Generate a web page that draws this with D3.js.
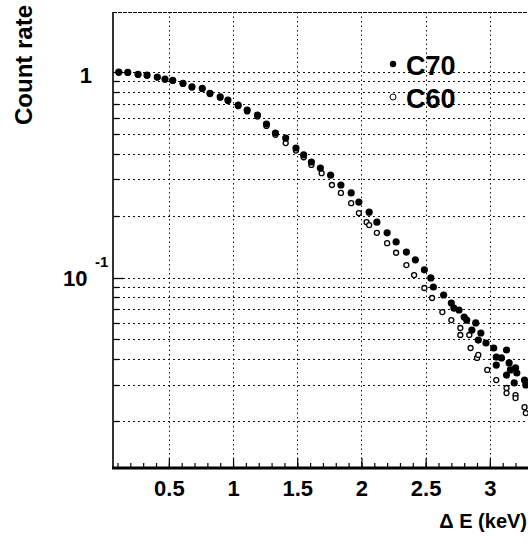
<!DOCTYPE html>
<html>
<head>
<meta charset="utf-8">
<script src="https://cdn.jsdelivr.net/npm/d3@7"></script>
<style>
  body { margin: 0; background: #fff; }
  svg text { font-family: "Liberation Sans", Arial, Helvetica, sans-serif; font-weight: bold; fill: #000; }
</style>
</head>
<body>
<svg id="chart"></svg>
<script>
// Count rate vs delta E, C70 (filled) and C60 (open)

const width = 528;
const height = 541;

// C70 points (keV, normalised count rate)
const c70Energy = [0.11, 0.18, 0.26, 0.33, 0.41, 0.47, 0.53, 0.61, 0.68, 0.76,
  0.82, 0.90, 0.96, 1.04, 1.11, 1.19, 1.26, 1.33, 1.41, 1.49,
  1.55, 1.61, 1.68, 1.76, 1.84, 1.92, 1.98, 2.06, 2.12, 2.20,
  2.27, 2.35, 2.42, 2.49, 2.54, 2.56, 2.64, 2.70, 2.72, 2.76,
  2.80, 2.82, 2.86, 2.89, 2.91, 2.93, 2.97, 3.03, 3.05, 3.05,
  3.09, 3.13, 3.13, 3.15, 3.16, 3.19, 3.20, 3.21, 3.27, 3.28];
const c70Rate = [1.00, 0.997, 0.975, 0.967, 0.946, 0.925, 0.911, 0.881, 0.848, 0.833,
  0.788, 0.758, 0.731, 0.691, 0.653, 0.618, 0.558, 0.505, 0.477, 0.427,
  0.395, 0.365, 0.341, 0.315, 0.282, 0.258, 0.233, 0.208, 0.186, 0.165,
  0.149, 0.133, 0.122, 0.109, 0.0995, 0.0899, 0.0822, 0.0751, 0.0710, 0.0695,
  0.0642, 0.0621, 0.0555, 0.0601, 0.0496, 0.0537, 0.0480, 0.0454, 0.0410, 0.0375,
  0.0406, 0.0444, 0.0335, 0.0384, 0.0355, 0.0307, 0.0363, 0.0343, 0.0317, 0.0300];

// C60 points
const c60Energy = [0.11, 0.18, 0.26, 0.33, 0.41, 0.47, 0.53, 0.61, 0.68, 0.76,
  0.82, 0.90, 0.96, 1.04, 1.11, 1.19, 1.26, 1.33, 1.41, 1.49,
  1.55, 1.61, 1.69, 1.77, 1.84, 1.92, 1.98, 2.04, 2.06, 2.12,
  2.20, 2.27, 2.35, 2.41, 2.49, 2.55, 2.63, 2.70, 2.77, 2.77,
  2.84, 2.85, 2.90, 2.91, 2.98, 3.05, 3.13, 3.13, 3.20, 3.20,
  3.27, 3.28];
const c60Rate = [0.995, 0.99, 0.97, 0.96, 0.94, 0.92, 0.905, 0.875, 0.842, 0.826,
  0.781, 0.75, 0.722, 0.682, 0.643, 0.607, 0.547, 0.495, 0.451, 0.415,
  0.385, 0.353, 0.322, 0.282, 0.258, 0.230, 0.206, 0.186, 0.180, 0.165,
  0.147, 0.132, 0.115, 0.1028, 0.0889, 0.0795, 0.0679, 0.0621, 0.0568, 0.0525,
  0.0525, 0.0454, 0.0406, 0.0420, 0.0355, 0.0317, 0.0290, 0.0274, 0.0268, 0.0259,
  0.0234, 0.0219];

// Axis ticks and grid
const xMajorTicks = [0.5, 1, 1.5, 2, 2.5, 3];
const xMinorTicks = d3.range(1, 34).map(d => d / 10);
const yMajorTicks = [1, 0.1];
const yGridValues = [0.02, 0.03, 0.04, 0.05, 0.06, 0.07, 0.08, 0.09,
  0.1, 0.2, 0.3, 0.4, 0.5, 0.6, 0.7, 0.8, 0.9, 1];

const legendItems = ["C70", "C60"];

const svg = d3.select("#chart").attr("width", width).attr("height", height);

// plot frame is cut off at the right edge of the picture
const plotLeft = 113, plotTop = 12, plotBottom = 468;

const x = d3.scaleLinear()
  .domain([0.065, 3.4])
  .range([plotLeft, plotLeft + 3.335 * 128.4]);

const y = d3.scaleLog()
  .domain([0.01183, 1.96])
  .range([plotBottom, plotTop]);

// snap a coordinate to the pixel grid so the dotted lines stay crisp
const crisp = v => Math.round(v) + 0.5;

// grid lines
const grid = svg.append("g").attr("class", "grid");
grid.selectAll(".hgrid")
  .data(yGridValues)
  .enter().append("line")
  .attr("x1", plotLeft).attr("x2", width)
  .attr("y1", d => crisp(y(d))).attr("y2", d => crisp(y(d)))
  .attr("stroke", "#111")
  .attr("stroke-width", 1)
  .attr("stroke-dasharray", "2,3");

grid.selectAll(".vgrid")
  .data(xMajorTicks)
  .enter().append("line")
  .attr("x1", d => crisp(x(d))).attr("x2", d => crisp(x(d)))
  .attr("y1", plotTop).attr("y2", plotBottom)
  .attr("stroke", "#111")
  .attr("stroke-width", 1)
  .attr("stroke-dasharray", "1.5,3");

// top border (dotted) and left border
svg.append("line")
  .attr("x1", plotLeft).attr("x2", width)
  .attr("y1", plotTop + 0.5).attr("y2", plotTop + 0.5)
  .attr("stroke", "#000").attr("stroke-width", 1)
  .attr("stroke-dasharray", "4,1");

svg.append("line")
  .attr("x1", plotLeft).attr("x2", plotLeft)
  .attr("y1", plotTop).attr("y2", plotBottom)
  .attr("stroke", "#000").attr("stroke-width", 1.6);

// x axis: minor and major ticks pointing inwards
const xMinorAxis = d3.axisBottom(x).tickValues(xMinorTicks).tickSize(-5).tickFormat("");
const xMajorAxis = d3.axisBottom(x).tickValues(xMajorTicks).tickSize(-10).tickPadding(12)
  .tickFormat(d => d);

svg.append("g").attr("transform", `translate(0,${plotBottom})`).call(xMinorAxis)
  .call(g => g.select(".domain").remove());
const xAxisG = svg.append("g").attr("transform", `translate(0,${plotBottom})`).call(xMajorAxis)
  .call(g => g.select(".domain").remove());
xAxisG.selectAll("text").style("font-size", "22px");
svg.selectAll(".tick line").attr("stroke", "#000").attr("stroke-width", 1.2);

svg.append("line")
  .attr("x1", plotLeft - 1).attr("x2", width)
  .attr("y1", plotBottom).attr("y2", plotBottom)
  .attr("stroke", "#000").attr("stroke-width", 3);

// y axis ticks
const yTicks = svg.append("g");
yTicks.selectAll("line")
  .data(yGridValues)
  .enter().append("line")
  .attr("x1", plotLeft)
  .attr("x2", d => plotLeft + (yMajorTicks.includes(d) ? 10 : 6))
  .attr("y1", d => crisp(y(d))).attr("y2", d => crisp(y(d)))
  .attr("stroke", "#000").attr("stroke-width", 1.3);

// y tick labels
svg.append("text")
  .attr("x", 92).attr("y", y(yMajorTicks[0]) + 11)
  .attr("text-anchor", "end")
  .style("font-size", "22px")
  .text("1");

const tenLabel = svg.append("text")
  .attr("x", 63).attr("y", y(yMajorTicks[1]) + 8.5)
  .style("font-size", "22px");
tenLabel.append("tspan").text("10");
tenLabel.append("tspan")
  .attr("x", 95).attr("dy", -19)
  .style("font-size", "15px")
  .text("-1");

// axis titles
svg.append("text")
  .attr("transform", "translate(32,65) rotate(-90)")
  .attr("text-anchor", "middle")
  .style("font-size", "24px")
  .text("Count rate");

svg.append("text")
  .attr("x", 527).attr("y", 528)
  .attr("text-anchor", "end")
  .style("font-size", "20px")
  .text("\u0394 E (keV)");

// data points
const c60 = c60Energy.map((e, i) => ({ e, r: c60Rate[i] }));
const c70 = c70Energy.map((e, i) => ({ e, r: c70Rate[i] }));

svg.append("g").selectAll("circle")
  .data(c60)
  .enter().append("circle")
  .attr("cx", d => x(d.e))
  .attr("cy", d => y(d.r))
  .attr("r", 2.5)
  .attr("fill", "#fff")
  .attr("stroke", "#000")
  .attr("stroke-width", 1.3);

svg.append("g").selectAll("circle")
  .data(c70)
  .enter().append("circle")
  .attr("cx", d => x(d.e))
  .attr("cy", d => y(d.r))
  .attr("r", 3.6)
  .attr("fill", "#000");

// legend
const legend = svg.append("g");
legend.append("circle").attr("cx", 393).attr("cy", 64).attr("r", 3.2).attr("fill", "#000");
legend.append("circle").attr("cx", 393).attr("cy", 97).attr("r", 3)
  .attr("fill", "#fff").attr("stroke", "#000").attr("stroke-width", 1);
legend.selectAll("text")
  .data(legendItems)
  .enter().append("text")
  .attr("x", 406)
  .attr("y", (d, i) => 75 + i * 33)
  .style("font-size", "27px")
  .text(d => d);
</script>
</body>
</html>
